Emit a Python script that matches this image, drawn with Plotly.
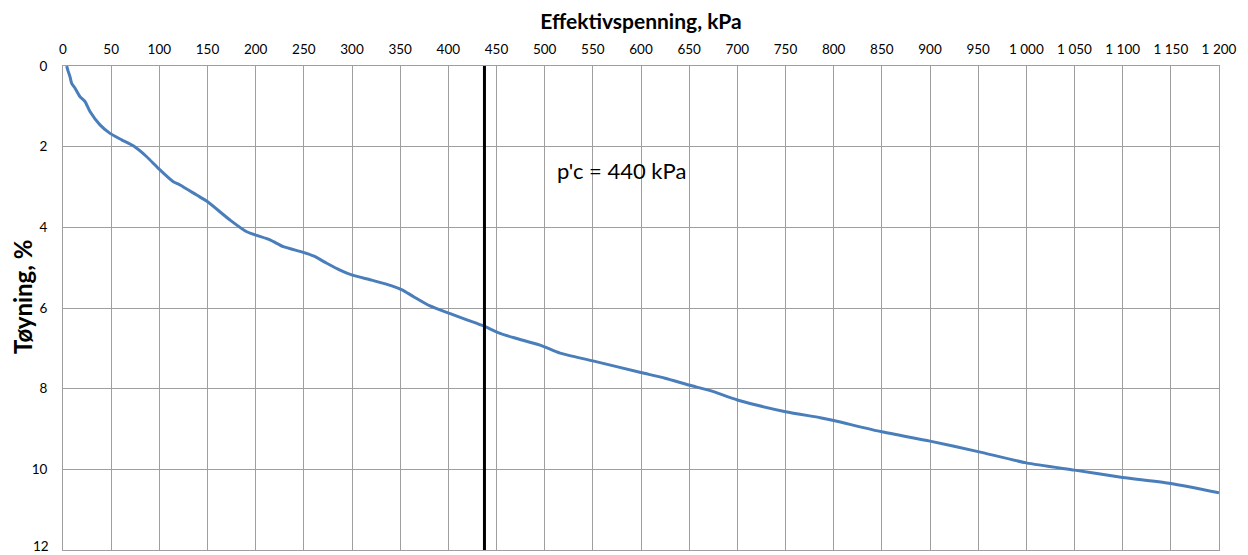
import plotly.graph_objects as go

stress_kpa = [3.8, 5.5, 7.3, 9, 12.5, 17.6, 22.8, 28, 38.4, 48.8, 60.9, 73, 86.9, 99,
              114.5, 121.5, 138.8, 149.8, 173.4, 190.7, 214.9, 228.7, 249.5, 260, 273.8,
              287.6, 299.7, 320.5, 341.3, 352, 364, 381, 402, 420, 437, 453.7, 470,
              495.3, 516, 550, 599.8, 625, 649.7, 672, 700, 750, 786, 800, 849.9, 900,
              949.9, 1000, 1050, 1100, 1150, 1200]
strain_pct = [0.0, 0.14, 0.27, 0.43, 0.55, 0.76, 0.88, 1.13, 1.46, 1.67, 1.83, 1.98, 2.25, 2.54,
              2.87, 2.95, 3.2, 3.36, 3.82, 4.11, 4.31, 4.48, 4.62, 4.71, 4.89,
              5.06, 5.18, 5.31, 5.45, 5.55, 5.72, 5.95, 6.14, 6.3, 6.45, 6.63, 6.75,
              6.92, 7.12, 7.31, 7.60, 7.74, 7.91, 8.05, 8.28, 8.57, 8.72, 8.79, 9.07, 9.30,
              9.56, 9.84, 10.02, 10.2, 10.35, 10.58]

pc_value = 437.5
pc_label = "p'c = 440 kPa"

x_tickvals = list(range(0, 1201, 50))
x_ticktext = [f"{v:,}".replace(",", " ") for v in x_tickvals]
y_tickvals = [0, 2, 4, 6, 8, 10, 12]
y_ticktext = [str(v) for v in y_tickvals]

FONT = "Lato, Open Sans, sans-serif"
TICK_SIZE = 13.5

fig = go.Figure()
fig.add_trace(go.Scatter(x=stress_kpa, y=strain_pct, mode="lines",
                         line=dict(color="#4A7EBB", width=3, shape="spline", smoothing=0.6),
                         showlegend=False))
fig.add_trace(go.Scatter(x=[pc_value, pc_value], y=[0, 12], mode="lines",
                         line=dict(color="black", width=3), showlegend=False))

fig.add_annotation(x=511, y=2.58, text=pc_label, showarrow=False, xanchor="left",
                   yanchor="middle", font=dict(family=FONT, size=22, color="black"))

# y-axis title as rotated annotation
fig.add_annotation(x=0, xref="paper", y=5.73, yref="y", xshift=-41, textangle=-90,
                   text="<b>Tøyning, %</b>", showarrow=False, xanchor="center", yanchor="middle",
                   font=dict(family=FONT, size=24, color="black"))

# last y tick label drawn as annotation, nudged up so it is not clipped
fig.add_annotation(x=0, xref="paper", y=y_tickvals[-1], yref="y", xshift=-12, yshift=4,
                   text=y_ticktext[-1], showarrow=False, xanchor="right", yanchor="middle",
                   font=dict(family=FONT, size=TICK_SIZE, color="black"))

fig.update_layout(
    width=1240, height=547,
    margin=dict(l=55, r=29, t=58, b=5, autoexpand=False),
    paper_bgcolor="white", plot_bgcolor="white",
    font=dict(family=FONT, color="black", size=14),
    xaxis=dict(side="top", range=[0, 1200], tickvals=x_tickvals, ticktext=x_ticktext,
               showgrid=True, gridcolor="#9e9e9e", gridwidth=1, zeroline=False,
               showline=True, linecolor="#9e9e9e", mirror=True, ticks="",
               ticklabelstandoff=6, automargin=False,
               title=dict(text="<b>Effektivspenning, kPa</b>", font=dict(size=21), standoff=8),
               tickfont=dict(size=TICK_SIZE)),
    yaxis=dict(range=[12, 0], tickvals=y_tickvals[:-1], ticktext=y_ticktext[:-1],
               showgrid=True, gridcolor="#9e9e9e",
               zeroline=False, showline=True, linecolor="#9e9e9e", mirror=True, ticks="",
               ticklabelstandoff=12, automargin=False,
               tickfont=dict(size=TICK_SIZE)),
)

fig.write_html("out.html")
